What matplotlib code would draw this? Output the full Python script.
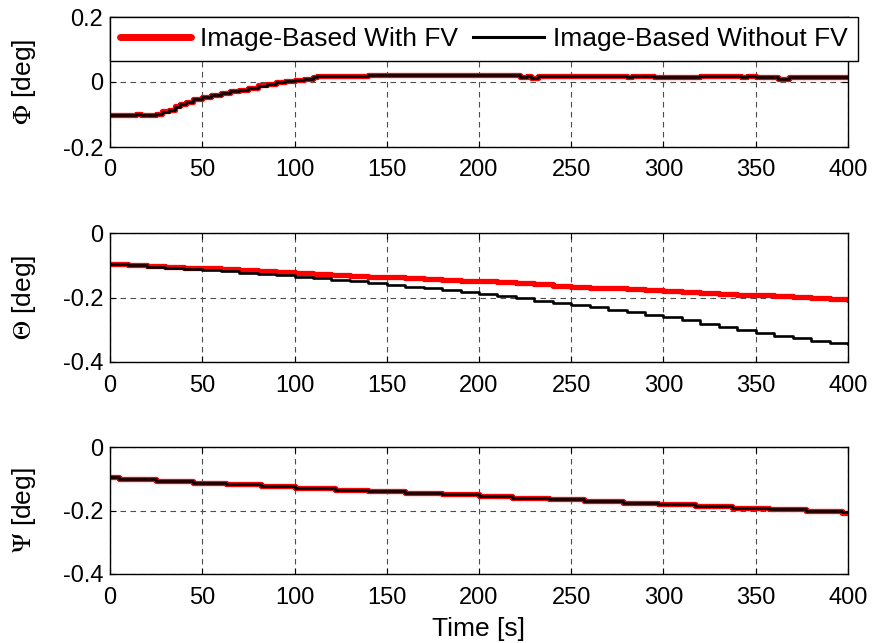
import numpy as np
import matplotlib
matplotlib.use("Agg")
import matplotlib.pyplot as plt

plt.rcParams['font.family'] = ['Liberation Sans', 'DejaVu Sans']
plt.rcParams['mathtext.fontset'] = 'stix'

# Roll angle (step breakpoints) -- both controllers nearly identical
phi_t = [0, 14, 17, 25, 28, 32, 35, 38, 41, 45, 50, 55, 60, 65, 70, 75, 80, 85, 90, 95,
         100, 105, 110, 112, 140, 222, 226, 228, 232, 280, 283, 295, 320, 330, 340, 342,
         345, 350, 362, 368, 400]
phi_fv = [-0.100, -0.097, -0.100, -0.097, -0.090, -0.085, -0.075, -0.068, -0.060, -0.052,
          -0.046, -0.040, -0.035, -0.028, -0.024, -0.018, -0.010, -0.005, 0.000, 0.003,
          0.006, 0.008, 0.015, 0.020, 0.021, 0.016, 0.020, 0.013, 0.020, 0.014,
          0.020, 0.014, 0.019, 0.017, 0.019, 0.016, 0.019, 0.016, 0.010, 0.015, 0.015]
phi_nofv = [-0.100, -0.097, -0.100, -0.097, -0.091, -0.085, -0.076, -0.068, -0.061, -0.053,
            -0.046, -0.041, -0.035, -0.029, -0.024, -0.018, -0.011, -0.005, 0.000, 0.003,
            0.006, 0.008, 0.015, 0.020, 0.021, 0.016, 0.020, 0.013, 0.020, 0.014,
            0.020, 0.014, 0.019, 0.017, 0.019, 0.016, 0.019, 0.016, 0.010, 0.015, 0.015]

# Pitch angle, sampled every 10 s
theta_t = list(range(0, 401, 10))
theta_fv = [-0.097, -0.099, -0.102, -0.105, -0.107, -0.110, -0.113, -0.116, -0.118, -0.121,
            -0.124, -0.127, -0.129, -0.132, -0.135, -0.137, -0.140, -0.142, -0.145, -0.148,
            -0.150, -0.153, -0.156, -0.159, -0.163, -0.166, -0.169, -0.171, -0.174, -0.177,
            -0.179, -0.182, -0.185, -0.188, -0.191, -0.193, -0.196, -0.199, -0.202, -0.205,
            -0.208]
theta_nofv = [-0.097, -0.100, -0.104, -0.107, -0.111, -0.115, -0.119, -0.123, -0.127, -0.131,
              -0.135, -0.140, -0.145, -0.150, -0.155, -0.160, -0.166, -0.172, -0.178, -0.184,
              -0.190, -0.196, -0.203, -0.210, -0.217, -0.224, -0.231, -0.239, -0.246, -0.254,
              -0.262, -0.271, -0.281, -0.290, -0.300, -0.309, -0.318, -0.327, -0.335, -0.342,
              -0.343]

# Yaw angle (step breakpoints)
psi_t = [0, 5, 25, 45, 63, 82, 100, 122, 140, 160, 180, 200, 218, 238, 257, 278, 297,
         317, 337, 357, 377, 397, 400]
psi_fv = [-0.095, -0.102, -0.108, -0.113, -0.118, -0.123, -0.128, -0.134, -0.139, -0.144,
          -0.149, -0.155, -0.160, -0.165, -0.170, -0.176, -0.181, -0.186, -0.191, -0.196,
          -0.201, -0.207, -0.209]
psi_nofv = [-0.095, -0.102, -0.108, -0.113, -0.118, -0.123, -0.128, -0.134, -0.139, -0.144,
            -0.149, -0.155, -0.160, -0.165, -0.170, -0.176, -0.181, -0.186, -0.191, -0.196,
            -0.201, -0.205, -0.206]

panels = [
    (phi_t, phi_fv, phi_nofv, r'$\Phi$ [deg]', (-0.2, 0.2), [-0.2, 0, 0.2], ['-0.2', '0', '0.2']),
    (theta_t, theta_fv, theta_nofv, r'$\Theta$ [deg]', (-0.4, 0), [-0.4, -0.2, 0], ['-0.4', '-0.2', '0']),
    (psi_t, psi_fv, psi_nofv, r'$\Psi$ [deg]', (-0.4, 0), [-0.4, -0.2, 0], ['-0.4', '-0.2', '0']),
]

W, H = 885, 643
fig = plt.figure(figsize=(W / 100, H / 100), dpi=100)
boxes = [(17, 147), (233, 362), (447, 574)]
fs = 17
fs_lab = 19

axes = []
for (top, bot), (t, y_fv, y_nofv, ylab, ylim, yt, ytl) in zip(boxes, panels):
    ax = fig.add_axes([110 / W, 1 - bot / H, 738 / W, (bot - top) / H])
    ax.plot(t, y_fv, color='red', lw=3.8, drawstyle='steps-post',
            solid_capstyle='round', label='Image-Based With FV')
    ax.plot(t, y_nofv, color='black', lw=1.9, drawstyle='steps-post',
            label='Image-Based Without FV')
    ax.set_xlim(0, 400)
    ax.set_ylim(*ylim)
    ax.set_xticks(np.arange(0, 401, 50))
    ax.set_yticks(yt)
    ax.set_yticklabels(ytl)
    ax.grid(True, color='0.3', linestyle=(0, (5, 4)), lw=0.8)
    ax.tick_params(direction='in', top=True, right=True, labelsize=fs, length=4)
    ax.tick_params(axis='x', pad=9)
    ax.tick_params(axis='y', pad=5)
    ax.set_ylabel(ylab, fontsize=fs_lab)
    ax.yaxis.set_label_coords(-0.098, 0.5)
    for s in ax.spines.values():
        s.set_linewidth(1.0)
    axes.append(ax)

axes[-1].set_xlabel('Time [s]', fontsize=fs_lab, labelpad=6)

leg = axes[0].legend(loc='upper left', bbox_to_anchor=(0, 1.0), ncol=2, fontsize=fs_lab,
                     frameon=True, fancybox=False, edgecolor='black', borderaxespad=0,
                     handlelength=2.7, handletextpad=0.34, columnspacing=0.55,
                     borderpad=0.38)
leg.get_frame().set_linewidth(1.0)
leg.get_frame().set_alpha(1)
leg.get_lines()[0].set_linewidth(5.0)
leg.get_lines()[1].set_linewidth(2.2)

fig.savefig('out.png', dpi=100)
